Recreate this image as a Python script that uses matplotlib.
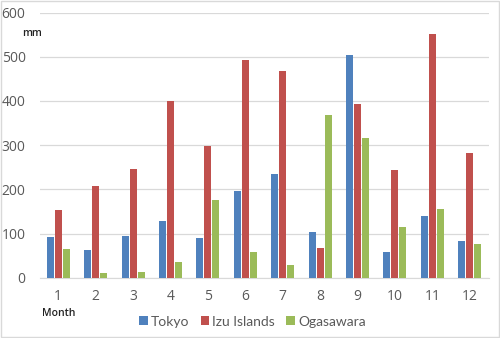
import numpy as np
import matplotlib
matplotlib.use("Agg")
import matplotlib.pyplot as plt
from matplotlib.patches import Rectangle

# monthly precipitation (mm)
months = [1, 2, 3, 4, 5, 6, 7, 8, 9, 10, 11, 12]
tokyo = [93, 63, 95, 129, 90, 196, 234, 104, 503, 58, 139, 83]
izu = [153, 207, 245, 400, 298, 492, 467, 67, 394, 243, 551, 283]
ogasawara = [65, 11, 13, 36, 176, 58, 28, 368, 316, 114, 155, 77]
series = ["Tokyo", "Izu Islands", "Ogasawara"]
colors = ["#4F81BD", "#C0504D", "#9BBB59"]

plt.rcParams["font.family"] = ["Open Sans", "DejaVu Sans"]

fig = plt.figure(figsize=(5, 3.38), dpi=100)
ax = fig.add_axes([0.079, 0.178, 0.898, 0.785])

x = np.arange(len(months)) + 1
w = 0.187
step = 0.214
for i, (vals, name, c) in enumerate(zip([tokyo, izu, ogasawara], series, colors)):
    ax.bar(x + (i - 1) * step, vals, width=w, color=c, label=name, zorder=3)

ax.set_xlim(0.5, 12.5)
ax.set_ylim(0, 600)
ax.set_yticks(range(0, 601, 100))
ax.set_xticks(x)
ax.set_xticklabels([str(m) for m in months])
ax.grid(axis="y", color="#D9D9D9", lw=0.9, zorder=0)
for s in ["top", "right", "left"]:
    ax.spines[s].set_visible(False)
ax.spines["bottom"].set_color("#D9D9D9")
ax.tick_params(length=0, colors="#595959", labelsize=10)
ax.tick_params(axis="y", pad=10)
ax.tick_params(axis="x", pad=8)

fig.text(0.045, 0.893, "mm", fontsize=7.5, color="#222222", fontweight="semibold")
fig.text(0.084, 0.066, "Month", fontsize=7.5, color="#222222", fontweight="semibold")

leg = fig.legend(loc="center", bbox_to_anchor=(0.505, 0.048), ncol=3, frameon=False,
                 prop={"family": ["Lato", "DejaVu Sans"], "size": 10},
                 handlelength=0.6, handleheight=0.6, handletextpad=0.25,
                 columnspacing=0.8, labelcolor="#595959")

fig.patches.append(Rectangle((0.002, 0.003), 0.995, 0.993, transform=fig.transFigure,
                             fill=False, edgecolor="#D9D9D9", lw=1))

fig.savefig("out.png", dpi=100)
